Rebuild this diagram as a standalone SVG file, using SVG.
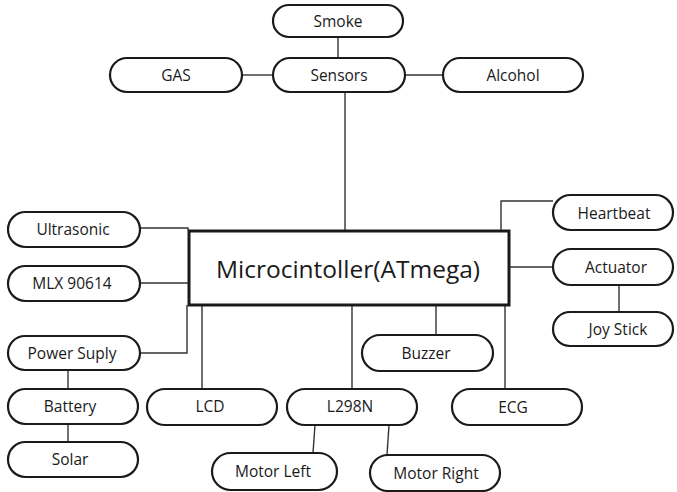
<svg xmlns="http://www.w3.org/2000/svg" width="677" height="492" viewBox="0 0 677 492">
<style>
.p{fill:#fff;stroke:#1a1a1a;stroke-width:2.2}
.t{font-family:"Open Sans","Noto Sans",sans-serif;font-size:15.5px;fill:#1a1a1a;text-anchor:middle;dominant-baseline:central}
.c{fill:none;stroke:#333;stroke-width:1.4}
</style>
<rect width="677" height="492" fill="#fff"/>
<g id="connectors">
<path class="c" d="M338 37V58"/>
<path class="c" d="M242 75H273"/>
<path class="c" d="M405 75H443"/>
<path class="c" d="M345 92V230"/>
<path class="c" d="M140 228H188V230"/>
<path class="c" d="M140 283H188"/>
<path class="c" d="M140 353H187V305"/>
<path class="c" d="M68 370V389"/>
<path class="c" d="M68 424V442"/>
<path class="c" d="M202 305V388"/>
<path class="c" d="M352 305V389"/>
<path class="c" d="M315 425L313 453"/>
<path class="c" d="M389 425L387 455"/>
<path class="c" d="M436 305V335"/>
<path class="c" d="M505 305V389"/>
<path class="c" d="M553 201H501V230"/>
<path class="c" d="M510 267H553"/>
<path class="c" d="M619 285V312"/>
</g>
<g id="mcu">
<rect x="189" y="231" width="320" height="74" fill="#fff" stroke="#1a1a1a" stroke-width="3"/>
<text x="348" y="268" font-family="'Open Sans','Noto Sans',sans-serif" font-size="24.5" fill="#1a1a1a" text-anchor="middle" dominant-baseline="central">Microcintoller(ATmega)</text>
</g>
<g id="smoke"><rect class="p" x="273" y="5" width="130" height="32" rx="16"/><text class="t" x="338" y="21">Smoke</text></g>
<g id="sensors"><rect class="p" x="273" y="58" width="132" height="34" rx="17"/><text class="t" x="339" y="75">Sensors</text></g>
<g id="gas"><rect class="p" x="110" y="58" width="132" height="34" rx="17"/><text class="t" x="176" y="75">GAS</text></g>
<g id="alcohol"><rect class="p" x="443" y="58" width="140" height="34" rx="17"/><text class="t" x="513" y="75">Alcohol</text></g>
<g id="ultrasonic"><rect class="p" x="8" y="212" width="132" height="35" rx="17.5"/><text class="t" x="73" y="229">Ultrasonic</text></g>
<g id="mlx"><rect class="p" x="8" y="266" width="132" height="35" rx="17.5"/><text class="t" x="72" y="283">MLX 90614</text></g>
<g id="power"><rect class="p" x="8" y="336" width="132" height="34" rx="17"/><text class="t" x="72" y="353">Power Suply</text></g>
<g id="battery"><rect class="p" x="8" y="389" width="130" height="35" rx="17.5"/><text class="t" x="70" y="406">Battery</text></g>
<g id="solar"><rect class="p" x="8" y="442" width="130" height="35" rx="17.5"/><text class="t" x="70" y="459">Solar</text></g>
<g id="lcd"><rect class="p" x="147" y="389" width="130" height="36" rx="18"/><text class="t" x="210" y="406">LCD</text></g>
<g id="l298n"><rect class="p" x="287" y="389" width="130" height="36" rx="18"/><text class="t" x="350" y="406">L298N</text></g>
<g id="motorleft"><rect class="p" x="212" y="453" width="125" height="37" rx="18.5"/><text class="t" x="273" y="471">Motor Left</text></g>
<g id="motorright"><rect class="p" x="370" y="455" width="130" height="36" rx="18"/><text class="t" x="436" y="473">Motor Right</text></g>
<g id="buzzer"><rect class="p" x="362" y="335" width="131" height="36" rx="18"/><text class="t" x="426" y="353">Buzzer</text></g>
<g id="ecg"><rect class="p" x="452" y="389" width="130" height="36" rx="18"/><text class="t" x="513" y="407">ECG</text></g>
<g id="heartbeat"><rect class="p" x="553" y="195" width="120" height="35" rx="17.5"/><text class="t" x="614" y="213">Heartbeat</text></g>
<g id="actuator"><rect class="p" x="553" y="249" width="120" height="36" rx="18"/><text class="t" x="616" y="267">Actuator</text></g>
<g id="joystick"><rect class="p" x="553" y="312" width="120" height="34" rx="17"/><text class="t" x="618" y="329">Joy Stick</text></g>
</svg>
